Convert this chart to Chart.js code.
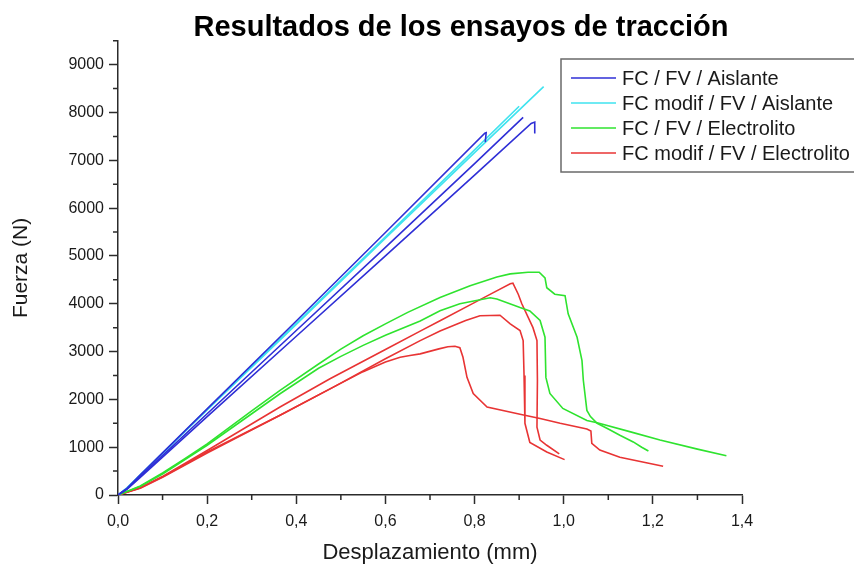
<!DOCTYPE html>
<html><head><meta charset="utf-8">
<script src="https://cdn.jsdelivr.net/npm/chart.js@4.4.1/dist/chart.umd.min.js"></script>
<style>html,body{margin:0;padding:0;background:#fff}</style>
</head><body>
<canvas id="c" width="854" height="567"></canvas>
<script>
const chartTitle = 'Resultados de los ensayos de tracción';
const xAxisTitle = 'Desplazamiento (mm)';
const yAxisTitle = 'Fuerza (N)';
const seriesNames = ['FC / FV / Aislante', 'FC modif / FV / Aislante', 'FC / FV / Electrolito', 'FC modif / FV / Electrolito'];
const seriesColors = ['#2f2fd6', '#3fe3ef', '#2fe32f', '#e83434'];
const xTicks = [0, 0.2, 0.4, 0.6, 0.8, 1.0, 1.2, 1.4];
const xMinorTicks = [0.1, 0.3, 0.5, 0.7, 0.9, 1.1, 1.3];
const yTicks = [0, 1000, 2000, 3000, 4000, 5000, 6000, 7000, 8000, 9000];
const yMinorTicks = [500, 1500, 2500, 3500, 4500, 5500, 6500, 7500, 8500, 9500];

// FC / FV / Aislante (3 probetas)
const aisl1X = [0, 0.02, 0.05, 0.2, 0.4, 0.6, 0.823, 0.826, 0.824];
const aisl1Y = [0, 140, 420, 1800, 3640, 5490, 7570, 7580, 7380];
const aisl2X = [0, 0.02, 0.05, 0.2, 0.4, 0.6, 0.8, 0.909];
const aisl2Y = [0, 130, 390, 1700, 3440, 5180, 6930, 7900];
const aisl3X = [0, 0.02, 0.05, 0.2, 0.4, 0.6, 0.8, 0.927, 0.935, 0.935];
const aisl3Y = [0, 120, 370, 1640, 3320, 5000, 6690, 7770, 7800, 7560];
// FC modif / FV / Aislante
const modAisl1X = [0, 0.02, 0.05, 0.2, 0.4, 0.6, 0.8, 0.955];
const modAisl1Y = [0, 150, 420, 1780, 3570, 5370, 7160, 8540];
const modAisl2X = [0, 0.02, 0.05, 0.2, 0.4, 0.6, 0.8, 0.9];
const modAisl2Y = [0, 145, 415, 1790, 3590, 5400, 7220, 8130];
// FC / FV / Electrolito (2 probetas)
const elec1X = [0, 0.05, 0.1, 0.15, 0.2, 0.3, 0.3635, 0.45, 0.5, 0.55, 0.6, 0.65, 0.7225, 0.79, 0.85, 0.88, 0.92, 0.945, 0.958, 0.962, 0.98, 1.003, 1.01, 1.03, 1.041, 1.044, 1.052, 1.06, 1.075, 1.1, 1.126, 1.156, 1.175, 1.19];
const elec1Y = [0, 190, 460, 760, 1070, 1760, 2187, 2740, 3050, 3330, 3580, 3820, 4130, 4375, 4560, 4625, 4660, 4660, 4540, 4335, 4200, 4170, 3790, 3300, 2810, 2400, 1770, 1640, 1500, 1380, 1250, 1110, 1000, 920];
const elec2X = [0, 0.05, 0.1, 0.2, 0.3, 0.3635, 0.45, 0.5, 0.55, 0.6, 0.678, 0.7225, 0.767, 0.835, 0.85, 0.902, 0.924, 0.947, 0.958, 0.96, 0.969, 0.998, 1.052, 1.075, 1.15, 1.216, 1.3, 1.365];
const elec2Y = [0, 180, 440, 1040, 1700, 2118, 2650, 2900, 3130, 3340, 3640, 3854, 4000, 4125, 4100, 3920, 3850, 3650, 3300, 2460, 2125, 1810, 1560, 1510, 1320, 1150, 960, 820];
// FC modif / FV / Electrolito (3 probetas)
const modElec1X = [0, 0.05, 0.1, 0.2, 0.3635, 0.4757, 0.6, 0.678, 0.7225, 0.79, 0.84, 0.88, 0.886, 0.898, 0.906, 0.931, 0.94, 0.941, 0.94, 0.947, 0.962, 0.99];
const modElec1Y = [0, 150, 390, 930, 1840, 2430, 3043, 3427, 3646, 3976, 4222, 4420, 4430, 4200, 4000, 3500, 3230, 2400, 1420, 1150, 1040, 860];
const modElec2X = [0, 0.05, 0.1, 0.2, 0.3635, 0.4832, 0.6, 0.678, 0.7225, 0.78, 0.812, 0.857, 0.88, 0.902, 0.909, 0.911, 0.913, 0.924, 0.962, 1.002];
const modElec2Y = [0, 150, 380, 900, 1667, 2256, 2850, 3229, 3430, 3650, 3750, 3760, 3580, 3440, 3230, 2500, 1500, 1100, 900, 740];
const modElec3X = [0, 0.05, 0.1, 0.2, 0.3635, 0.4832, 0.55, 0.6, 0.633, 0.655, 0.678, 0.72, 0.74, 0.756, 0.767, 0.774, 0.783, 0.797, 0.828, 0.902, 0.947, 0.992, 1.052, 1.061, 1.063, 1.081, 1.126, 1.223];
const modElec3Y = [0, 140, 370, 880, 1667, 2256, 2580, 2780, 2882, 2917, 2952, 3056, 3100, 3110, 3080, 2880, 2460, 2120, 1840, 1690, 1600, 1500, 1380, 1340, 1080, 940, 790, 600];

const curves = [
  [aisl1X, aisl1Y, 0], [aisl2X, aisl2Y, 0], [aisl3X, aisl3Y, 0],
  [modAisl1X, modAisl1Y, 1], [modAisl2X, modAisl2Y, 1],
  [elec1X, elec1Y, 2], [elec2X, elec2Y, 2],
  [modElec1X, modElec1Y, 3], [modElec2X, modElec2Y, 3], [modElec3X, modElec3Y, 3]
];

const FONT = '"Liberation Sans", Arial, sans-serif';
Chart.defaults.font.family = FONT;
Chart.defaults.color = '#1a1a1a';
const AXIS = '#2b2b2b';

const datasets = curves.map(([xs, ys, s]) => ({
  label: seriesNames[s],
  data: xs.map((x, i) => ({x: x, y: ys[i]})),
  borderColor: seriesColors[s],
  backgroundColor: seriesColors[s],
  borderWidth: 1.6,
  pointRadius: 0,
  tension: 0,
  fill: false
}));

const extras = {
  id: 'extras',
  afterLayout(chart) {
    const t = chart.titleBlock;
    if (t) {
      const d = 461 - (t.left + t.right) / 2; t.left += d; t.right += d;
      t.top += 5; t.bottom += 5;
    }
  },
  afterDraw(chart) {
    const ctx = chart.ctx;
    const xs = chart.scales.x, ys = chart.scales.y;
    ctx.save();
    ctx.strokeStyle = AXIS; ctx.lineWidth = 1.5;
    ctx.beginPath();
    xMinorTicks.forEach(v => { const p = xs.getPixelForValue(v); ctx.moveTo(p, xs.top); ctx.lineTo(p, xs.top + 5); });
    yMinorTicks.forEach(v => { const p = ys.getPixelForValue(v); ctx.moveTo(ys.right, p); ctx.lineTo(ys.right - 5, p); });
    ctx.stroke();
    // legend box
    const L = 561, T = 59, B = 172, R = 858;
    ctx.strokeStyle = '#6a6a6a'; ctx.lineWidth = 1.5;
    ctx.fillStyle = '#fff';
    ctx.fillRect(L, T, R - L, B - T);
    ctx.strokeRect(L, T, R - L, B - T);
    ctx.font = '20px ' + FONT;
    ctx.textBaseline = 'middle';
    ctx.fillStyle = '#1a1a1a';
    seriesNames.forEach((name, i) => {
      const y = 78 + i * 25;
      ctx.strokeStyle = seriesColors[i]; ctx.lineWidth = 1.6;
      ctx.beginPath(); ctx.moveTo(571, y); ctx.lineTo(616, y); ctx.stroke();
      ctx.fillText(name, 622, y + 1);
    });
    ctx.restore();
  }
};

new Chart(document.getElementById('c'), {
  type: 'line',
  data: {datasets},
  plugins: [extras],
  options: {
    responsive: false,
    animation: false,
    layout: {padding: {left: 0, right: 112, top: 0, bottom: 0}},
    plugins: {
      legend: {display: false},
      tooltip: {enabled: false},
      title: {display: true, text: chartTitle, color: '#000',
        font: {size: 29, weight: 'bold', family: FONT}, padding: {top: 6, bottom: 0}}
    },
    scales: {
      x: {
        type: 'linear', min: 0, max: 1.4,
        afterFit: s => { s.height = 72; },
        afterBuildTicks: s => { s.ticks = xTicks.map(v => ({value: v})); },
        ticks: {callback: v => v.toFixed(1).replace('.', ','), font: {size: 16}, padding: 8, maxRotation: 0, autoSkip: false},
        grid: {display: true, drawOnChartArea: false, tickLength: 9, tickColor: AXIS, tickWidth: 1.5},
        border: {display: true, color: AXIS, width: 1.5},
        title: {display: true, text: xAxisTitle, font: {size: 22}, padding: {bottom: 1, top: 0}}
      },
      y: {
        type: 'linear', min: 0, max: 9500,
        afterFit: s => { s.width = 118; },
        afterBuildTicks: s => { s.ticks = yTicks.map(v => ({value: v})); },
        ticks: {callback: v => String(v), font: {size: 16}, padding: 5, autoSkip: false},
        grid: {display: true, drawOnChartArea: false, tickLength: 9, tickColor: AXIS, tickWidth: 1.5},
        border: {display: true, color: AXIS, width: 1.5},
        title: {display: true, text: yAxisTitle, font: {size: 21}, padding: {top: 9, bottom: 0}}
      }
    }
  }
});
</script>
</body></html>
